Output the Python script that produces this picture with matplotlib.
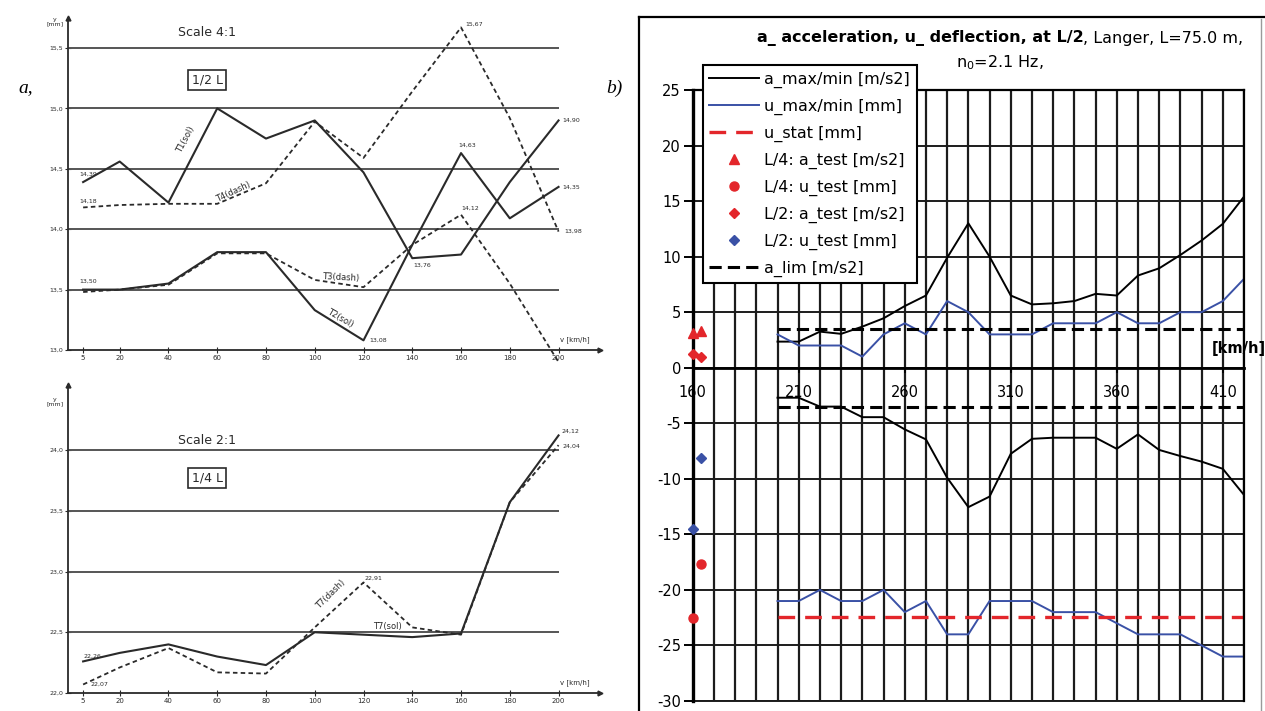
import matplotlib
matplotlib.use('Agg')
import matplotlib.pyplot as plt
from matplotlib.lines import Line2D

plt.rcParams['axes.unicode_minus'] = False

W, H = 1265, 711

# ---- panel a) : scanned field measurement, mid span / quarter span ----
v_a = [5, 20, 40, 60, 80, 100, 120, 140, 160, 180, 200]
top_ticks = [13.0, 13.5, 14.0, 14.5, 15.0, 15.5]
T1_sol = [14.39, 14.56, 14.22, 15.00, 14.75, 14.90, 14.47, 13.76, 13.79, 14.39, 14.90]
T4_dash = [14.18, 14.20, 14.21, 14.21, 14.38, 14.89, 14.59, 15.14, 15.67, 14.92, 13.98]
T2_sol = [13.50, 13.50, 13.55, 13.81, 13.81, 13.33, 13.08, 13.87, 14.63, 14.09, 14.35]
T3_dash = [13.48, 13.50, 13.54, 13.80, 13.80, 13.58, 13.52, 13.87, 14.12, 13.55, 12.90]
bot_ticks = [22.0, 22.5, 23.0, 23.5, 24.0]
T7_sol = [22.26, 22.33, 22.40, 22.30, 22.23, 22.50, 22.48, 22.46, 22.49, 23.57, 24.12]
T7_dash = [22.07, 22.21, 22.37, 22.17, 22.16, 22.54, 22.91, 22.54, 22.48, 23.57, 24.04]

# ---- panel b) : dynamic analysis, Langer bridge L=75 m ----
v_b = [200, 210, 220, 230, 240, 250, 260, 270, 280, 290, 300, 310,
       320, 330, 340, 350, 360, 370, 380, 390, 400, 410, 420]
a_max = [2.35, 2.35, 3.25, 3.05, 3.7, 4.45, 5.55, 6.5, 9.9, 13.0, 10.0, 6.5,
         5.7, 5.8, 6.0, 6.65, 6.5, 8.3, 8.95, 10.15, 11.45, 12.95, 15.4]
a_min = [-2.7, -2.7, -3.5, -3.5, -4.45, -4.45, -5.55, -6.45, -9.9, -12.55, -11.6, -7.75,
         -6.4, -6.3, -6.3, -6.3, -7.3, -6.0, -7.4, -7.95, -8.45, -9.1, -11.45]
u_max = [3, 2, 2, 2, 1, 3, 4, 3, 6, 5, 3, 3, 3, 4, 4, 4, 5, 4, 4, 5, 5, 6, 8]
u_min = [-21, -21, -20, -21, -21, -20, -22, -21, -24, -24, -21, -21,
         -21, -22, -22, -22, -23, -24, -24, -24, -25, -26, -26]
u_stat = -22.4
a_lim = 3.5
v_test = [160, 164]
L4_a_test = [3.1, 3.3]
L4_u_test = [-22.5, -17.7]
L2_a_test = [1.25, 1.0]
L2_u_test = [-14.5, -8.15]
xlabels_b = [160, 210, 260, 310, 360, 410]

ink = '#2a2a2a'
red = '#e3262b'
blue = '#3a51a6'

fig = plt.figure(figsize=(W / 100, H / 100), dpi=100)


def px_axes(l, t, r, b):
    return fig.add_axes([l / W, 1 - b / H, (r - l) / W, (b - t) / H])


def comma(x, fmt):
    return format(x, fmt).replace('.', ',')


def scan_axes(ax, yticks, ylim):
    ax.set_xlim(-1.2, 217)
    ax.set_ylim(*ylim)
    ax.patch.set_alpha(0)
    for s in ['top', 'right']:
        ax.spines[s].set_visible(False)
    for s in ['left', 'bottom']:
        ax.spines[s].set_color(ink)
        ax.spines[s].set_linewidth(1.3)
    ax.set_xticks(v_a)
    ax.set_xticklabels([str(v) for v in v_a], fontsize=5, color=ink)
    ax.set_yticks(yticks)
    ax.set_yticklabels([comma(t, '.1f') for t in yticks], fontsize=4.5, color=ink)
    ax.tick_params(direction='inout', length=4, width=0.8, pad=1.5, colors=ink)
    ax.hlines(yticks[1:], -1.2, 200, color='#555555', lw=1.4)
    ax.plot(1, 0, marker='>', color=ink, ms=3.5, transform=ax.transAxes, clip_on=False)
    ax.plot(0, 1, marker='^', color=ink, ms=3.5, transform=ax.transAxes, clip_on=False)


def tag(ax, x, y, dx, dy, ha='left', va='center'):
    ax.annotate(comma(y, '.2f'), (x, y), xytext=(dx, dy), textcoords='offset points',
                fontsize=4.5, ha=ha, va=va, color=ink)


# ---------------- panel a, top (scale 4:1, 1/2 L) ----------------
ax1 = px_axes(68, 18, 600, 350)
scan_axes(ax1, top_ticks, (13.0, 15.748))
ax1.plot(v_a, T1_sol, color=ink, lw=1.5, clip_on=False)
ax1.plot(v_a, T2_sol, color=ink, lw=1.5, clip_on=False)
ax1.plot(v_a, T4_dash, color=ink, lw=1.3, dashes=(2.5, 1.8), clip_on=False)
ax1.plot(v_a, T3_dash, color=ink, lw=1.3, dashes=(2.5, 1.8), clip_on=False)
tag(ax1, v_a[0], T1_sol[0], -3, 4, va='bottom')
tag(ax1, v_a[0], T4_dash[0], -3, 3, va='bottom')
tag(ax1, v_a[0], T2_sol[0], -3, 4, va='bottom')
tag(ax1, v_a[8], T4_dash[8], 3, 2)
tag(ax1, v_a[10], T1_sol[10], 3, 0)
tag(ax1, v_a[8], T2_sol[8], -2, 4, va='bottom')
tag(ax1, v_a[10], T2_sol[10], 3, 0)
tag(ax1, v_a[8], T3_dash[8], 0, 3, va='bottom')
tag(ax1, v_a[10], T4_dash[10], 4, 0)
tag(ax1, v_a[7], T1_sol[7], 1, -3, va='top')
tag(ax1, v_a[6], T2_sol[6], 4, 0)
tag(ax1, v_a[10], T3_dash[10], 2, -8, va='top')
ax1.text(47, 14.74, 'T1(sol)', rotation=62, fontsize=6, color=ink, ha='center', va='center')
ax1.text(66.6, 14.31, 'T4(dash)', rotation=25, fontsize=6, color=ink, ha='center', va='center')
ax1.text(110.5, 13.6, 'T3(dash)', rotation=-3, fontsize=6, color=ink, ha='center', va='center')
ax1.text(110.5, 13.26, 'T2(sol)', rotation=-30, fontsize=6, color=ink, ha='center', va='center')

# ---------------- panel a, bottom (scale 2:1, 1/4 L) ----------------
ax2 = px_axes(68, 385, 600, 693)
scan_axes(ax2, bot_ticks, (22.0, 24.535))
ax2.plot(v_a, T7_sol, color=ink, lw=1.5)
ax2.plot(v_a, T7_dash, color=ink, lw=1.3, dashes=(2.5, 1.8))
tag(ax2, v_a[0], T7_sol[0], 0, 2, va='bottom')
tag(ax2, v_a[0], T7_dash[0], 5, 0)
tag(ax2, v_a[6], T7_dash[6], 1, 1, va='bottom')
tag(ax2, v_a[10], T7_sol[10], 2, 3)
tag(ax2, v_a[10], T7_dash[10], 3, -1)
ax2.text(106.4, 22.81, 'T7(dash)', rotation=45, fontsize=6, color=ink, ha='center', va='center')
ax2.text(129.8, 22.55, 'T7(sol)', fontsize=6, color=ink, ha='center', va='center')

for yy, s, box in [(32, 'Scale 4:1', False), (80, '1/2 L', True),
                   (440, 'Scale 2:1', False), (478, '1/4 L', True)]:
    kw = dict(boxstyle='square,pad=0.3', fc='white', ec=ink, lw=1.2) if box else None
    fig.text(207 / W, 1 - yy / H, s, fontsize=9, color=ink, ha='center', va='center', bbox=kw)
for yy in [22, 402]:
    fig.text(55 / W, 1 - yy / H, 'y\n[mm]', fontsize=4.5, color=ink, ha='center', va='center',
             linespacing=0.9)
for yy in [340, 683]:
    fig.text(575 / W, 1 - yy / H, 'v [km/h]', fontsize=5, color=ink, ha='center', va='center')

fig.text(18 / W, 1 - 88 / H, 'a,', fontsize=14, style='italic', family='Liberation Serif',
         ha='left', va='center')
fig.text(606 / W, 1 - 88 / H, 'b)', fontsize=14, style='italic', family='Liberation Serif',
         ha='left', va='center')

# ---------------- panel b ----------------
fig.add_artist(Line2D([639 / W, 639 / W], [0, 1 - 17 / H], color='k', lw=1.6))
fig.add_artist(Line2D([639 / W, 1], [1 - 17 / H, 1 - 17 / H], color='k', lw=1.6))
fig.add_artist(Line2D([1261 / W, 1261 / W], [0, 1 - 19 / H], color='#9a9a9a', lw=1.0))

ax = px_axes(692.7, 90, 1244, 701)
ax.set_xlim(160, 420)
ax.set_ylim(-30, 25)
ax.set_axisbelow(True)
ax.set_xticks(xlabels_b)
ax.set_xticklabels([str(v) for v in xlabels_b], fontweight='bold')
ax.set_xticks(range(160, 421, 10), minor=True)
ax.set_yticks(range(-30, 26, 5))
ax.grid(which='both', axis='x', color='#1c1c1c', lw=1.6)
ax.grid(which='major', axis='y', color='#1c1c1c', lw=1.4)
ax.axhline(-30, color='#1c1c1c', lw=1.4, clip_on=False)
ax.spines['bottom'].set_position(('data', 0))
ax.spines['bottom'].set_linewidth(2.0)
ax.spines['left'].set_linewidth(2.4)
ax.spines['top'].set_linewidth(1.6)
ax.spines['right'].set_linewidth(1.6)
ax.tick_params(axis='y', direction='out', length=6.5, width=1.4, pad=2, labelsize=10.5)
ax.tick_params(axis='x', which='major', direction='out', length=3.5, width=1.2, pad=9,
               labelsize=10.5)
ax.tick_params(axis='x', which='minor', length=0)

h1, = ax.plot(v_b, a_max, color='k', lw=1.4)
ax.plot(v_b, a_min, color='k', lw=1.4)
h2, = ax.plot(v_b, u_max, color=blue, lw=1.4)
ax.plot(v_b, u_min, color=blue, lw=1.4)
h3, = ax.plot(v_b, [u_stat] * len(v_b), color=red, lw=2.4, dashes=(5, 3))
h4, = ax.plot(v_test, L4_a_test, '^', color=red, ms=7, clip_on=False, zorder=4)
h5, = ax.plot(v_test, L4_u_test, 'o', color=red, ms=6.5, clip_on=False, zorder=4)
h6, = ax.plot(v_test, L2_a_test, 'D', color=red, ms=5.5, clip_on=False, zorder=4)
h7, = ax.plot(v_test, L2_u_test, 'D', color=blue, ms=5.5, clip_on=False, zorder=4)
h8, = ax.plot(v_b, [a_lim] * len(v_b), color='k', lw=2.2, dashes=(4, 2))
ax.plot(v_b, [-a_lim] * len(v_b), color='k', lw=2.2, dashes=(4, 2))

leg = ax.legend([h1, h2, h3, h4, h5, h6, h7, h8],
                ['a_max/min [m/s2]', 'u_max/min [mm]', 'u_stat [mm]', 'L/4: a_test [m/s2]',
                 'L/4: u_test [mm]', 'L/2: a_test [m/s2]', 'L/2: u_test [mm]', 'a_lim [m/s2]'],
                loc='upper left', bbox_to_anchor=(703 / W, 1 - 65 / H),
                bbox_transform=fig.transFigure, borderaxespad=0, fontsize=11.5,
                fancybox=False, edgecolor='k', framealpha=1, handlelength=3.1,
                handletextpad=0.35, labelspacing=0.68, borderpad=0.4)
leg.get_frame().set_linewidth(1.5)

fig.text(1239 / W, 1 - 348 / H, '[km/h]', fontsize=10.5, fontweight='bold',
         ha='center', va='center')

# title: bold part + normal part, centred together
ty = 1 - 38 / H
t1 = fig.text(0, ty, 'a_ acceleration, u_ deflection, at L/2', fontsize=11.5,
              fontweight='bold', ha='left', va='center')
t2 = fig.text(0, ty, ', Langer, L=75.0 m,', fontsize=11.5, ha='left', va='center')
fig.text(1000 / W, 1 - 63 / H, 'n$_0$=2.1 Hz,', fontsize=11.5, ha='center', va='center')
fig.canvas.draw()
r = fig.canvas.get_renderer()
w1 = t1.get_window_extent(r).width
w2 = t2.get_window_extent(r).width
x0 = 1000 - (w1 + w2) / 2
t1.set_x(x0 / W)
t2.set_x((x0 + w1) / W)

fig.savefig('out.png', dpi=100)
